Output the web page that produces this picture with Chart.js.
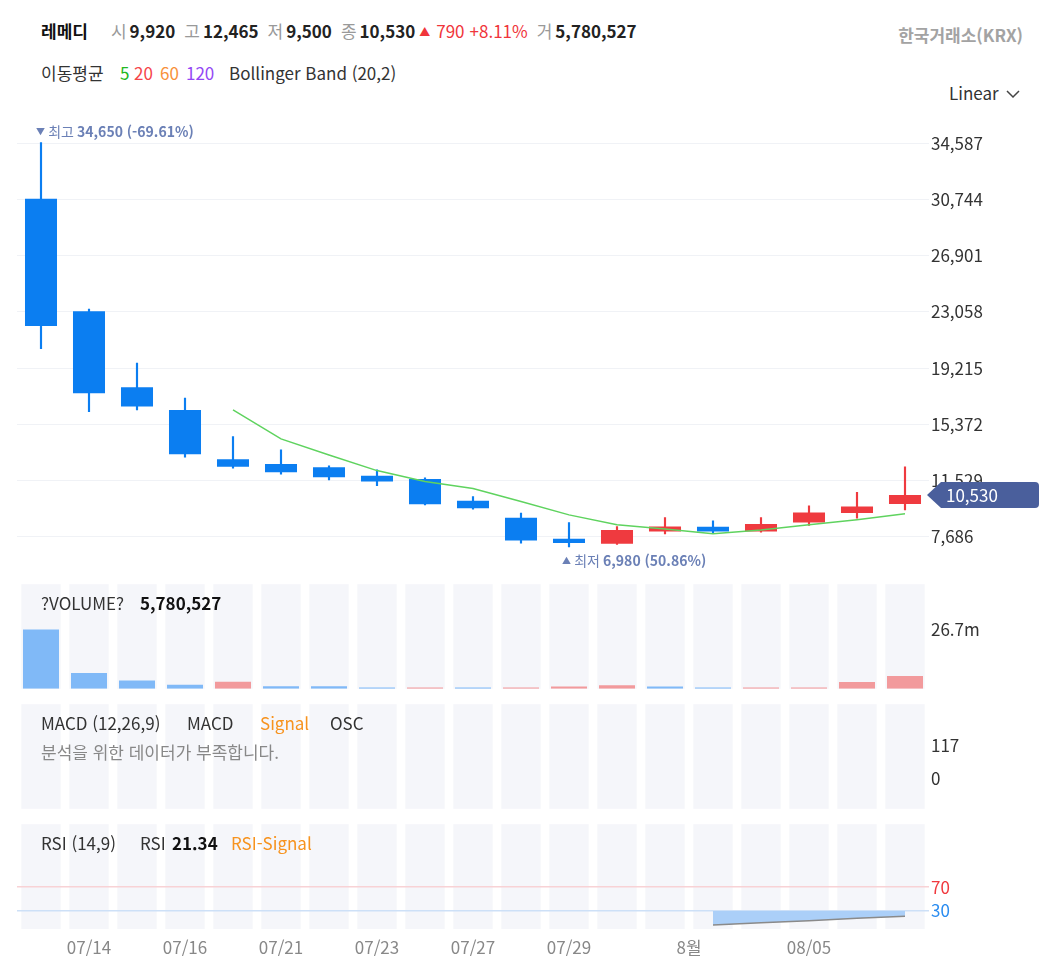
<!DOCTYPE html>
<html lang="ko">
<head>
<meta charset="utf-8">
<script src="https://cdn.jsdelivr.net/npm/chart.js@4.4.1/dist/chart.umd.min.js"></script>
<style>
body { margin: 0; background: #fff; font-family: 'Noto Sans CJK KR', 'Noto Sans', sans-serif; }
#wrap { position: relative; width: 1041px; height: 972px; overflow: hidden; }
canvas { position: absolute; left: 0; }
.t { position: absolute; white-space: nowrap; line-height: 24px; font-size: 17px; color: #333; }
#hdr span { display: inline-block; }
.nm { font-weight: bold; color: #111; margin-right: 14px; }
.k { color: #999; margin-left: 9px; margin-right: 3px; }
.v { font-weight: bold; color: #222; }
.up { color: #f0353b; }
.sm { font-size: 11px; margin: 0 6px 0 4px; vertical-align: 2px; }
.gap { margin-left: 5px; }
.b { font-weight: bold; color: #111; }
.org { color: #f7931e; }
.gr { color: #888; }
</style>
</head>
<body>
<div id="wrap">
  <div id="hdr" class="t" style="left:41px;top:19px"></div>
  <div class="t" style="right:18px;top:23px;font-weight:bold;color:#a3a3a3">한국거래소(KRX)</div>

  <div class="t" style="left:41px;top:61px">이동평균</div>
  <div class="t" style="left:120px;top:61px;color:#22b822">5</div>
  <div class="t" style="left:134px;top:61px;color:#f5444a">20</div>
  <div class="t" style="left:160px;top:61px;color:#f8913a">60</div>
  <div class="t" style="left:186px;top:61px;color:#9447f5">120</div>
  <div class="t" style="left:229px;top:61px">Bollinger Band (20,2)</div>

  <div class="t" style="left:949px;top:81px">Linear</div>
  <svg style="position:absolute;left:1005px;top:88px" width="16" height="12"><polyline points="2,3 8,9 14,3" fill="none" stroke="#444" stroke-width="1.5"/></svg>

  <canvas id="price" width="1041" height="492" style="top:96px"></canvas>
  <canvas id="vol" width="1041" height="129" style="top:572px"></canvas>
  <canvas id="macd" width="1041" height="129" style="top:692px"></canvas>
  <canvas id="rsi" width="1041" height="160" style="top:812px"></canvas>

  <div class="t" style="left:41px;top:591px">?VOLUME?</div>
  <div class="t b" style="left:140px;top:591px" id="volNow"></div>

  <div class="t" style="left:41px;top:711px">MACD (12,26,9)</div>
  <div class="t" style="left:187px;top:711px">MACD</div>
  <div class="t org" style="left:260px;top:711px">Signal</div>
  <div class="t" style="left:330px;top:711px">OSC</div>
  <div class="t gr" style="left:41px;top:740px">분석을 위한 데이터가 부족합니다.</div>

  <div class="t" style="left:41px;top:831px">RSI (14,9)</div>
  <div class="t" style="left:140px;top:831px">RSI</div>
  <div class="t b" style="left:172px;top:831px" id="rsiNow"></div>
  <div class="t org" style="left:231px;top:831px">RSI-Signal</div>
</div>

<script>
// daily data
const dates = ['07/11','07/14','07/15','07/16','07/17','07/21','07/22','07/23','07/24','07/27',
               '07/28','07/29','07/30','07/31','08/01','08/04','08/05','08/06','08/07'];
const opens  = [30800, 23100, 17900, 16350, 12980, 12650, 12430, 11840, 11630, 10130,
                8980, 7530, 7190, 8030, 8350, 8030, 8640, 9290, 9920];
const highs  = [34650, 23250, 19550, 17170, 14520, 13620, 12520, 12250, 11700, 10420,
                9290, 8640, 8370, 8990, 8760, 8990, 9790, 10720, 12465];
const lows   = [20550, 16230, 16350, 13110, 12360, 11950, 11560, 11170, 9850, 9560,
                7230, 6980, 7140, 7870, 7920, 7990, 8440, 8940, 9500];
const closes = [22100, 17490, 16580, 13320, 12470, 12090, 11750, 11450, 9900, 9630,
                7410, 7240, 8140, 8370, 8030, 8550, 9330, 9740, 10530];
const ma5    = [null, null, null, null, 16350, 14370, 13270, 12200, 11450, 10970,
                10080, 9170, 8490, 8210, 7870, 8140, 8490, 8830, 9240];
const volumes = [26700000, 7060000, 3780000, 1800000, 3150000, 1200000, 1190000, 600000, 620000, 580000,
                 600000, 1050000, 1650000, 1050000, 550000, 570000, 590000, 3000000, 5780527];
const rsi    = [null, null, null, null, null, null, null, null, null, null,
                null, null, null, null, 6.6, 10.4, 13.9, 17.8, 21.34];

// axis ticks
const priceTicks = [7686, 11529, 15372, 19215, 23058, 26901, 30744, 34587];
const priceMin = 5000, priceMax = 37000;
const volMax = 47000000;
const macdTicks = [0, 117];
const macdMin = -103, macdMax = 258;
const rsiTicks = [30, 70];
const rsiMin = 0, rsiMax = 175;
const xTickDates = ['07/14','07/16','07/21','07/23','07/27','07/29','08/05'];

const UP = '#ef3a3f', DOWN = '#0b7ef1';
const UP_VOL = '#f29a9c', DOWN_VOL = '#80b9f7';
const FONT = "'Noto Sans CJK KR', 'Noto Sans', sans-serif";

Chart.defaults.font.family = FONT;
Chart.defaults.animation = false;

const fmt = v => v.toLocaleString('en-US');
const n = closes.length - 1;

// header quote line
const chg = closes[n] - closes[n - 1];
const chgPct = (chg / closes[n - 1] * 100).toFixed(2);
const hdrItems = [
  ['레메디', 'nm'],
  ['시', 'k'], [fmt(opens[n]), 'v'],
  ['고', 'k'], [fmt(highs[n]), 'v'],
  ['저', 'k'], [fmt(lows[n]), 'v'],
  ['종', 'k'], [fmt(closes[n]), 'v'],
  ['▲', 'up sm'], [fmt(chg), 'up'], ['+' + chgPct + '%', 'up gap'],
  ['거', 'k'], [fmt(volumes[n]), 'v']
];
document.getElementById('hdr').innerHTML = hdrItems
  .map(([s, c]) => `<span class="${c}">${s}</span>`).join('');
document.getElementById('volNow').innerText = fmt(volumes[n]);
document.getElementById('rsiNow').innerText = rsi[n].toFixed(2);

// shared helpers
const yRight = (extra) => Object.assign({
  position: 'right',
  border: { display: false },
  grid: { drawTicks: false, display: false },
  ticks: { padding: 2, color: '#333', font: { size: 17 } },
  afterFit(s) { s.width = 112; }
}, extra);
const xHidden = { type: 'category', offset: true, display: false };
const baseOpts = {
  responsive: false,
  layout: { padding: { left: 17, top: 12, right: 0, bottom: 12 } },
  plugins: { legend: { display: false }, tooltip: { enabled: false } }
};

const columnsBg = {
  id: 'columnsBg',
  beforeDraw(chart) {
    const { ctx, chartArea: a, scales: { x } } = chart;
    const w = x.width / dates.length * 0.82;
    ctx.save();
    ctx.fillStyle = '#f5f6fa';
    dates.forEach((d, i) => {
      const cx = x.getPixelForValue(i);
      ctx.fillRect(cx - w / 2, a.top, w, a.bottom - a.top);
    });
    ctx.restore();
  }
};

function drawParts(ctx, x, y, parts, color) {
  ctx.fillStyle = color;
  parts.forEach(([s, f]) => {
    ctx.font = f + ' ' + FONT;
    ctx.fillText(s, x, y);
    x += ctx.measureText(s).width;
  });
}

const priceMarks = {
  id: 'priceMarks',
  afterDraw(chart) {
    const { ctx, chartArea: a, scales: { x, y } } = chart;
    const last = closes[n];
    const hi = Math.max(...highs), iHi = highs.indexOf(hi);
    const lo = Math.min(...lows), iLo = lows.indexOf(lo);
    const pct = v => ((last / v - 1) * 100).toFixed(2);
    ctx.save();
    ctx.textBaseline = 'middle';
    drawParts(ctx, x.getPixelForValue(iHi) - 5, y.getPixelForValue(hi) - 11,
      [['▼', '9px'], [' 최고 ', '14px'], [fmt(hi) + ' (' + pct(hi) + '%)', 'bold 14px']], '#6b80b6');
    drawParts(ctx, x.getPixelForValue(iLo) - 7, y.getPixelForValue(lo) + 14,
      [['▲', '9px'], [' 최저 ', '14px'], [fmt(lo) + ' (' + pct(lo) + '%)', 'bold 14px']], '#6b80b6');

    // current price tag
    const py = y.getPixelForValue(last);
    const tip = a.right - 2, l = tip + 14, r = 1039, h = 13, rad = 4;
    ctx.fillStyle = '#4a5f9c';
    ctx.beginPath();
    ctx.moveTo(tip, py);
    ctx.lineTo(l, py - h);
    ctx.lineTo(r - rad, py - h);
    ctx.quadraticCurveTo(r, py - h, r, py - h + rad);
    ctx.lineTo(r, py + h - rad);
    ctx.quadraticCurveTo(r, py + h, r - rad, py + h);
    ctx.lineTo(l, py + h);
    ctx.closePath();
    ctx.fill();
    ctx.fillStyle = '#fff';
    ctx.font = '17px ' + FONT;
    ctx.fillText(fmt(last), l + 5, py + 1);
    ctx.restore();
  }
};

// price panel
new Chart(document.getElementById('price'), {
  type: 'bar',
  data: {
    labels: dates,
    datasets: [
      { type: 'line', data: ma5, borderColor: '#5fd35f', borderWidth: 1.5, pointRadius: 0, order: 0 },
      { data: opens.map((o, i) => [o, closes[i]]), grouped: false, order: 1,
        backgroundColor: closes.map((c, i) => c >= opens[i] ? UP : DOWN),
        barPercentage: 0.667, categoryPercentage: 1 },
      { data: lows.map((l, i) => [l, highs[i]]), grouped: false, order: 2,
        backgroundColor: closes.map((c, i) => c >= opens[i] ? UP : DOWN),
        barThickness: 1.5 }
    ]
  },
  options: Object.assign({}, baseOpts, {
    scales: {
      x: xHidden,
      y: yRight({
        min: priceMin, max: priceMax,
        grid: { drawTicks: false, color: '#f0f2f6', lineWidth: 1 },
        afterBuildTicks(s) { s.ticks = priceTicks.map(value => ({ value })); },
        ticks: { padding: 2, color: '#333', font: { size: 17 }, callback: v => fmt(v) }
      })
    }
  }),
  plugins: [priceMarks]
});

// volume panel
new Chart(document.getElementById('vol'), {
  type: 'bar',
  data: {
    labels: dates,
    datasets: [{
      data: volumes,
      backgroundColor: volumes.map((v, i) => i > 0 && v > volumes[i - 1] ? UP_VOL : DOWN_VOL),
      barPercentage: 0.75, categoryPercentage: 1
    }]
  },
  options: Object.assign({}, baseOpts, {
    scales: {
      x: xHidden,
      y: yRight({
        min: 0, max: volMax,
        afterBuildTicks(s) { s.ticks = [{ value: Math.max(...volumes) }]; },
        ticks: { padding: 2, color: '#333', font: { size: 17 }, callback: v => (v / 1e6).toFixed(1) + 'm' }
      })
    }
  }),
  plugins: [columnsBg]
});

// MACD panel (not enough data)
new Chart(document.getElementById('macd'), {
  type: 'line',
  data: { labels: dates, datasets: [] },
  options: Object.assign({}, baseOpts, {
    scales: {
      x: xHidden,
      y: yRight({
        min: macdMin, max: macdMax,
        afterBuildTicks(s) { s.ticks = macdTicks.map(value => ({ value })); }
      })
    }
  }),
  plugins: [columnsBg]
});

// RSI panel with date axis
const monthMark = {
  id: 'monthMark',
  afterDraw(chart) {
    const { ctx, scales: { x } } = chart;
    for (let i = 1; i < dates.length; i++) {
      if (dates[i].slice(0, 2) !== dates[i - 1].slice(0, 2)) {
        const mx = (x.getPixelForValue(i - 1) + x.getPixelForValue(i)) / 2;
        ctx.save();
        ctx.font = '17px ' + FONT;
        ctx.fillStyle = '#888';
        ctx.textAlign = 'center';
        ctx.textBaseline = 'top';
        ctx.fillText(parseInt(dates[i].slice(0, 2), 10) + '월', mx, x.top + 10);
        ctx.restore();
      }
    }
  }
};

new Chart(document.getElementById('rsi'), {
  type: 'line',
  data: {
    labels: dates,
    datasets: [{
      data: rsi, borderColor: '#8a8a8a', borderWidth: 1.5, pointRadius: 0,
      fill: { value: 30, above: 'rgba(0,0,0,0)', below: '#abcff8' }
    }]
  },
  options: Object.assign({}, baseOpts, {
    layout: { padding: { left: 17, top: 12, right: 0, bottom: 0 } },
    scales: {
      x: {
        type: 'category', offset: true,
        border: { display: false },
        grid: { display: false },
        afterFit(s) { s.height = 43; },
        ticks: {
          autoSkip: false, maxRotation: 0, padding: 0, color: '#888', font: { size: 17 },
          callback(v) { const d = this.getLabelForValue(v); return xTickDates.includes(d) ? d : ''; }
        }
      },
      y: yRight({
        min: rsiMin, max: rsiMax,
        grid: { drawTicks: false, lineWidth: 1.5, color: c => c.tick.value === 70 ? '#f8d2d5' : '#cde0f7' },
        afterBuildTicks(s) { s.ticks = rsiTicks.map(value => ({ value })); },
        ticks: { padding: 2, font: { size: 17 }, color: c => c.tick.value === 70 ? '#f0393e' : '#2a8cf0' }
      })
    }
  }),
  plugins: [columnsBg, monthMark]
});
</script>
</body>
</html>
